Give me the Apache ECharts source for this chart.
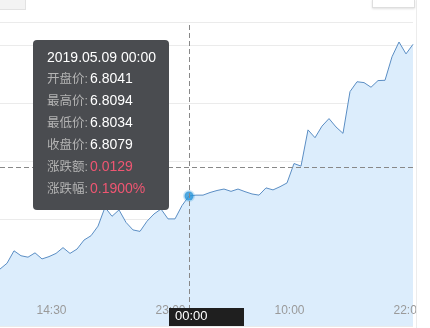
<!DOCTYPE html>
<html>
<head>
<meta charset="utf-8">
<script src="https://cdn.jsdelivr.net/npm/echarts@6/dist/echarts.min.js"></script>
<style>
  html, body { margin: 0; padding: 0; background: #fff; width: 430px; height: 328px; overflow: hidden; }
  #wrap { position: relative; width: 430px; height: 328px; }
  #chart { position: absolute; left: 0; top: 0; width: 416px; height: 328px; border-right: 1px solid #ececec; }
  .btnL { position: absolute; left: -1px; top: -1px; width: 25px; height: 9px; background: #f3f3f3; border: 1px solid #e2e2e2; }
  .btnR { position: absolute; left: 372px; top: -1px; width: 41px; height: 7px; background: #fff; border: 1px solid #dedede; box-shadow: 0 1px 2px rgba(0,0,0,0.12); }
</style>
</head>
<body>
<div id="wrap">
  <div id="chart"></div>
  <div class="btnL"></div>
  <div class="btnR"></div>
</div>
<script>
// ---- data ----
const categories = [
  '10:30','11:00','11:30','12:00','12:30','13:00','13:30','14:00','14:30','15:00',
  '15:30','16:00','16:30','17:00','17:30','18:00','18:30','19:00','19:30','20:00',
  '20:30','21:00','21:30','22:00','22:30','23:00','23:30','00:00','00:30','01:00',
  '01:30','02:00','02:30','03:00','06:00','06:30','07:00','07:30','08:00','08:30',
  '09:00','09:30','10:00','10:30','11:00','11:30','12:00','12:30','13:00','13:30',
  '14:00','14:30','15:00','16:00','17:00','18:00','19:00','20:00','21:00','22:00'
];
const closeValues = [
  6.7827, 6.7847, 6.7890, 6.7873, 6.7868, 6.7883, 6.7862, 6.7870, 6.7881, 6.7901,
  6.7881, 6.7896, 6.7927, 6.7942, 6.7975, 6.8040, 6.8009, 6.8031, 6.7988, 6.7962,
  6.7957, 6.7992, 6.8017, 6.8034, 6.8000, 6.8000, 6.8046, 6.8079, 6.8082, 6.8082,
  6.8091, 6.8098, 6.8103, 6.8095, 6.8103, 6.8094, 6.8086, 6.8082, 6.8107, 6.8100,
  6.8111, 6.8124, 6.8191, 6.8182, 6.8307, 6.8280, 6.8320, 6.8346, 6.8317, 6.8295,
  6.8439, 6.8473, 6.8470, 6.8454, 6.8477, 6.8478, 6.8559, 6.8610, 6.8569, 6.8602
];
const labelIndices = [8, 25, 42, 59];
const hoverIndex = 27;
const hoverTitle = '2019.05.09 00:00';
const tipLabels = ['开盘价', '最高价', '最低价', '收盘价', '涨跌额', '涨跌幅'];
const tipValues = ['6.8041', '6.8094', '6.8034', '6.8079', '0.0129', '0.1900%'];
const tipRed = [false, false, false, false, true, true];
const yMin = 6.76307, yMax = 6.86790;

// ---- chart ----
const FONT = '"Liberation Sans", Arial, "Noto Sans CJK SC", sans-serif';
const chart = echarts.init(document.getElementById('chart'), null, { renderer: 'canvas' });

function tipHtml() {
  let h = '<div style="font-size:14px;color:#fff;line-height:21px;">' + hoverTitle + '</div>';
  for (let i = 0; i < tipLabels.length; i++) {
    h += '<div style="line-height:21px;white-space:nowrap;">' +
      '<span style="color:#b3b3b3;font-size:12.5px;">' + tipLabels[i] + ':</span>' +
      '<span style="margin-left:2px;font-size:14px;color:' + (tipRed[i] ? '#ef5672' : '#fff') + ';">' + tipValues[i] + '</span></div>';
  }
  return h;
}

chart.setOption({
  animation: false,
  textStyle: { fontFamily: FONT },
  grid: { left: 0, top: 22, width: 413, bottom: 2, containLabel: false, outerBoundsMode: 'none' },
  tooltip: {
    trigger: 'axis',
    triggerOn: 'none',
    alwaysShowContent: true,
    position: [33, 40],
    backgroundColor: '#4a4c50',
    borderWidth: 0,
    padding: [7, 14, 10, 14],
    transitionDuration: 0,
    extraCssText: 'box-shadow:none;border-radius:4px;width:136px;box-sizing:border-box;font-family:' + FONT.replace(/"/g, "'") + ';',
    formatter: tipHtml,
    axisPointer: {
      type: 'cross',
      lineStyle: { color: '#888', type: [5, 3], width: 1 },
      crossStyle: { color: '#888', type: [5, 3], width: 1 }
    }
  },
  xAxis: {
    type: 'category',
    data: categories,
    boundaryGap: false,
    z: 10,
    axisLine: { show: false },
    axisTick: { show: false },
    splitLine: { show: false },
    axisLabel: {
      inside: true,
      margin: 9,
      color: '#9a9a9a',
      fontSize: 12,
      fontFamily: FONT,
      padding: [0, 9, 0, 0],
      interval: function (i) { return labelIndices.indexOf(i) >= 0; }
    },
    axisPointer: {
      label: { show: false },
      lineStyle: { color: '#888', type: [5, 3], width: 1 }
    }
  },
  yAxis: {
    type: 'value',
    min: yMin,
    max: yMax,
    splitNumber: 5,
    axisLine: { show: false },
    axisTick: { show: false },
    axisLabel: { show: false },
    splitLine: { show: true, lineStyle: { color: '#ebebeb', width: 1 } },
    axisPointer: {
      label: { show: false },
      lineStyle: { color: '#888', type: [5, 3], width: 1 }
    }
  },
  series: [
    {
      type: 'line',
      data: closeValues,
      symbol: 'none',
      showSymbol: false,
      lineStyle: { color: '#5b8ec4', width: 1 },
      itemStyle: { color: '#5b8ec4' },
      areaStyle: { color: '#dcedfc', opacity: 1 },
      emphasis: { disabled: true }
    },
    {
      type: 'scatter',
      data: [[hoverIndex, closeValues[hoverIndex]]],
      symbol: 'circle',
      symbolSize: 9,
      itemStyle: { color: '#2593d8', borderColor: 'rgba(37,147,216,0.3)', borderWidth: 3 },
      emphasis: { disabled: true },
      silent: true,
      z: 5
    }
  ]
});

const px = chart.convertToPixel({ xAxisIndex: 0 }, hoverIndex);
chart.setOption({
  graphic: [
    {
      type: 'rect', left: px - 20, top: 308, z: 100, zlevel: 1, silent: true,
      shape: { width: 75, height: 18 }, style: { fill: '#1f1f1f' }
    },
    {
      type: 'text', left: px - 14, top: 310, z: 101, zlevel: 1, silent: true,
      style: { text: categories[hoverIndex], fill: '#fff', font: '13px ' + FONT }
    }
  ]
});
chart.dispatchAction({ type: 'showTip', x: px, y: 167 });
</script>
</body>
</html>
